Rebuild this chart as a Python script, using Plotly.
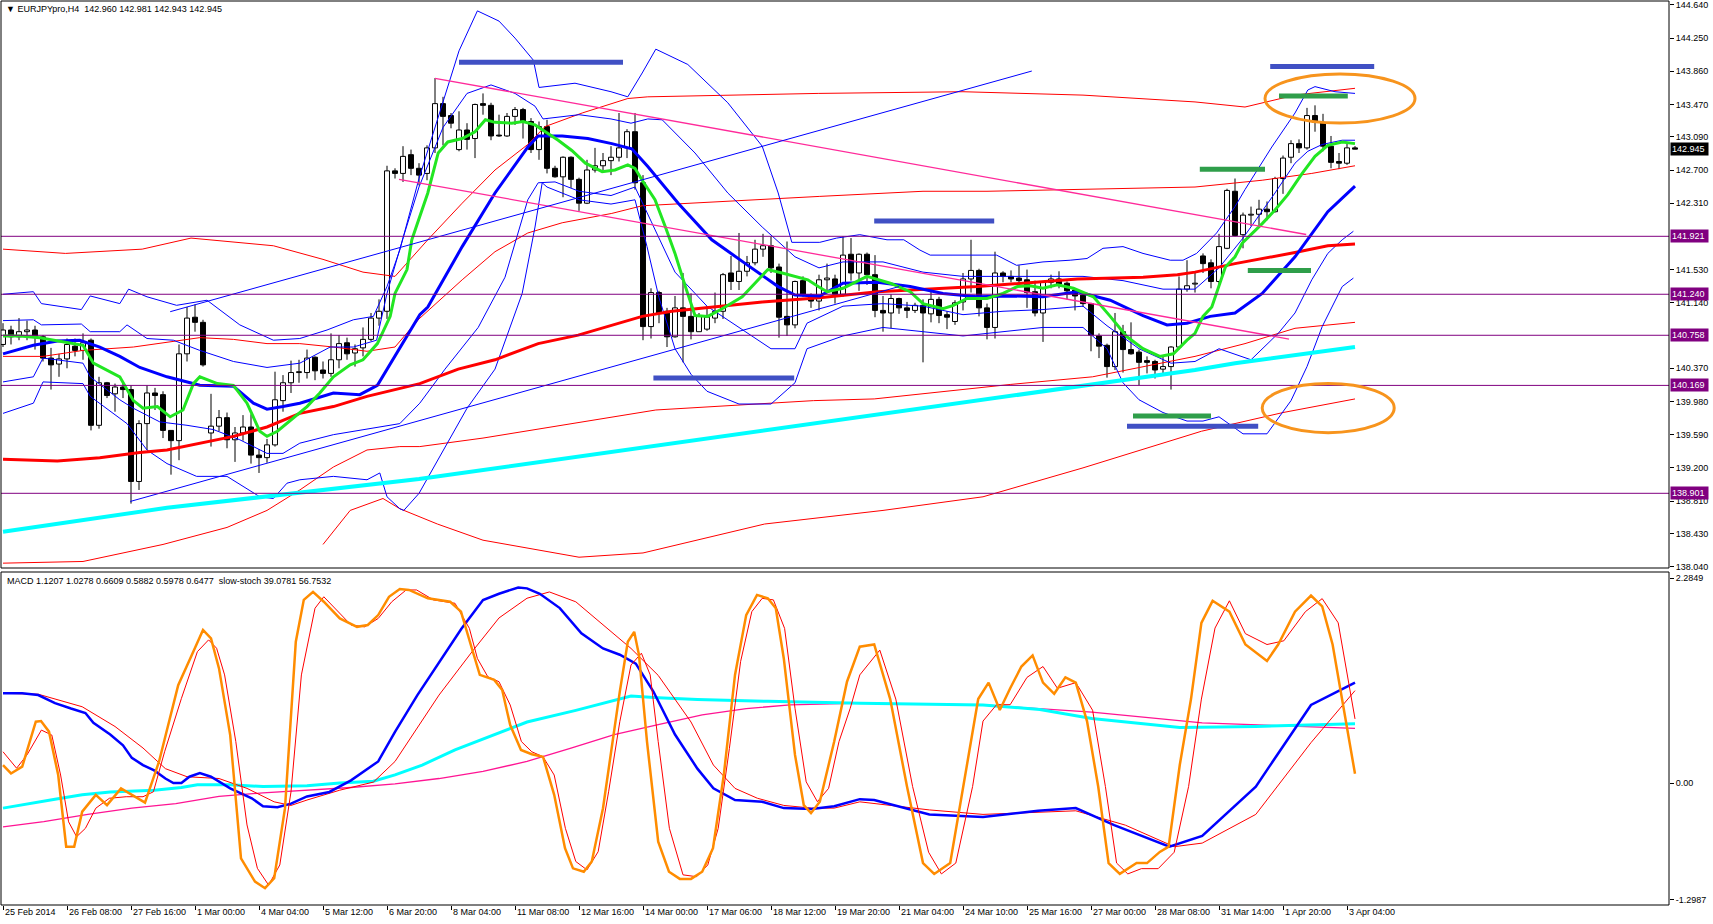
import plotly.graph_objects as go

# ---------------- data ----------------
opens = [140.65,140.82,140.74,140.80,140.82,140.74,140.49,140.42,140.48,140.63,
         140.58,140.70,139.70,140.20,140.07,140.15,140.12,139.04,139.72,140.08,
         140.06,139.64,139.52,140.54,140.97,140.91,139.61,139.69,139.79,139.53,
         139.61,139.68,139.35,139.32,139.47,139.99,140.20,140.32,140.32,140.50,
         140.35,140.31,140.47,140.67,140.55,140.61,140.71,140.96,141.04,142.69,
         142.66,142.88,142.72,142.66,142.96,143.48,143.34,142.94,143.17,143.07,
         143.48,143.46,143.11,143.10,143.33,143.41,143.27,142.94,143.21,142.72,
         142.62,142.85,142.59,142.31,142.70,142.75,142.81,142.85,142.96,143.15,
         142.55,140.86,141.26,141.04,140.74,141.08,140.98,140.80,140.83,140.96,
         141.04,141.49,141.39,141.51,141.61,141.77,141.81,141.56,140.98,140.88,
         141.40,141.23,141.16,141.41,141.42,141.24,141.71,141.49,141.71,141.47,
         141.05,141.02,141.19,141.08,141.05,141.11,141.01,141.18,141.00,140.92,
         141.15,141.42,141.52,141.08,140.85,141.49,141.45,141.43,141.41,141.27,
         141.02,141.38,141.42,141.37,141.29,141.23,141.13,140.75,140.64,140.39,
         140.80,140.59,140.56,140.46,140.45,140.36,140.39,140.62,141.30,141.36,
         141.69,141.61,141.39,141.78,142.45,141.94,142.17,142.18,142.24,142.21,
         142.60,142.85,143.01,142.96,143.34,143.26,142.98,142.80,142.78,142.960]
highs = [140.90,140.87,140.96,140.93,140.87,140.76,140.61,140.54,140.72,140.72,
         140.78,140.72,140.27,140.21,140.19,140.21,140.17,139.76,140.17,140.14,
         140.10,139.64,140.65,141.09,141.12,140.94,140.07,139.88,139.85,139.68,
         139.82,139.83,139.42,139.54,140.33,140.29,140.46,140.47,140.59,140.51,
         140.45,140.78,140.76,140.73,140.65,140.85,141.02,141.18,142.75,142.72,
         142.98,142.94,142.78,142.99,143.78,143.56,143.37,143.39,143.25,143.48,
         143.60,143.49,143.35,143.37,143.44,143.43,143.31,143.27,143.29,142.75,
         142.86,142.86,142.61,142.82,142.96,142.90,142.98,143.37,143.18,143.37,
         142.64,141.31,141.28,141.08,141.22,141.49,141.25,141.02,141.10,141.26,
         141.49,141.69,141.96,141.69,141.88,141.95,141.92,141.60,141.86,141.40,
         141.45,141.25,141.47,141.60,141.47,141.92,141.90,141.72,141.73,141.70,
         141.22,141.24,141.20,141.15,141.14,141.18,141.29,141.21,141.04,141.17,
         141.49,141.88,141.54,141.13,141.74,141.51,141.52,141.58,141.53,141.40,
         141.39,141.47,141.51,141.39,141.31,141.25,141.14,140.78,140.66,141.02,
         140.88,140.91,140.59,140.51,140.47,140.51,140.63,141.45,141.64,141.49,
         141.72,141.65,141.95,142.48,142.60,142.20,142.27,142.35,142.33,142.62,
         142.87,143.05,143.06,143.43,143.46,143.36,143.10,142.90,143.03,142.981]
lows = [140.62,140.65,140.70,140.70,140.59,140.45,140.12,140.27,140.37,140.51,
        140.47,139.64,139.66,140.02,139.86,140.02,138.78,138.94,139.41,139.88,
        139.55,139.12,139.29,140.45,140.80,140.39,139.45,139.63,139.43,139.27,
        139.52,139.25,139.14,139.26,139.45,139.86,140.08,140.20,140.25,140.23,
        140.25,140.27,140.37,140.47,140.39,140.51,140.69,140.87,140.95,142.60,
        142.56,142.64,142.52,142.58,142.90,142.99,143.19,142.92,142.94,142.84,
        143.35,143.05,143.09,143.09,143.23,143.07,142.90,142.82,142.66,142.61,
        142.38,142.49,142.22,142.30,142.67,142.70,142.64,142.80,142.84,142.47,
        140.70,140.72,140.90,140.62,140.73,140.44,140.71,140.80,140.81,140.90,
        140.95,141.29,141.29,141.45,141.58,141.68,141.49,140.73,140.75,140.84,
        141.21,141.08,141.05,141.29,141.13,141.21,141.40,141.28,141.35,140.97,
        140.80,140.84,141.01,140.96,141.02,140.44,140.91,140.90,140.83,140.88,
        141.05,141.26,140.98,140.71,140.72,141.38,141.38,141.33,141.08,140.98,
        140.68,141.31,141.31,141.18,141.05,141.09,140.57,140.49,140.26,140.35,
        140.32,140.53,140.17,140.31,140.25,140.31,140.12,140.59,141.27,141.26,
        141.49,141.31,141.35,141.77,141.92,141.78,142.04,142.02,142.11,142.20,
        142.42,142.78,142.90,142.94,143.15,142.92,142.72,142.71,142.76,142.943]
closes = [140.82,140.74,140.80,140.82,140.75,140.49,140.41,140.48,140.65,140.58,
          140.67,139.70,140.20,140.05,140.15,140.12,139.04,139.72,140.08,140.05,
          139.64,139.52,140.54,140.96,140.91,140.41,139.69,139.79,139.53,139.61,
          139.68,139.35,139.32,139.47,140.00,140.20,140.32,140.33,140.49,140.34,
          140.31,140.47,140.66,140.54,140.60,140.71,140.96,141.04,142.69,142.66,
          142.86,142.72,142.64,142.96,143.48,143.33,143.25,143.17,143.06,143.47,
          143.46,143.10,143.10,143.33,143.41,143.26,142.94,143.21,142.72,142.62,
          142.85,142.59,142.31,142.70,142.75,142.81,142.85,142.96,143.15,142.55,
          140.86,141.26,141.02,140.74,141.08,140.98,140.80,140.98,140.97,141.04,
          141.47,141.39,141.51,141.61,141.77,141.81,141.55,140.97,140.88,141.39,
          141.23,141.16,141.41,141.43,141.24,141.70,141.49,141.71,141.47,141.05,
          141.02,141.19,141.08,141.05,141.11,141.02,141.18,140.99,140.97,141.14,
          141.42,141.52,141.08,140.85,141.49,141.45,141.42,141.40,141.26,141.02,
          141.38,141.42,141.36,141.28,141.22,141.13,140.76,140.63,140.39,140.80,
          140.59,140.54,140.44,140.44,140.35,140.39,140.62,141.30,141.34,141.37,
          141.60,141.39,141.80,142.46,141.93,142.17,142.18,142.24,142.21,142.60,
          142.84,143.01,142.96,143.34,143.26,142.98,142.79,142.78,142.96,142.945]

date_labels = ["25 Feb 2014", "26 Feb 08:00", "27 Feb 16:00", "1 Mar 00:00", "4 Mar 04:00",
               "5 Mar 12:00", "6 Mar 20:00", "8 Mar 04:00", "11 Mar 08:00", "12 Mar 16:00",
               "14 Mar 00:00", "17 Mar 06:00", "18 Mar 12:00", "19 Mar 20:00", "21 Mar 04:00",
               "24 Mar 10:00", "25 Mar 16:00", "27 Mar 00:00", "28 Mar 08:00", "31 Mar 14:00",
               "1 Apr 20:00", "3 Apr 04:00"]
date_label_bars = [0, 8, 16, 24, 32, 40, 48, 56, 64, 72, 80, 88, 96, 104, 112, 120, 128, 136, 144, 152, 160, 168]

price_ticks = [144.640, 144.250, 143.860, 143.470, 143.090, 142.700, 142.310, 141.530, 141.140,
               140.370, 139.980, 139.590, 139.200, 138.810, 138.430, 138.040]
levels = [141.921, 141.240, 140.758, 140.169, 138.901]
last_price = 142.945

# fast MA (green)
green_x = [0, 2.1, 4.6, 10, 11.3, 14.6, 16.3, 17.5, 19.3, 20.9, 22.5, 23.8, 24.6, 26.8, 28.8, 30.5, 32.1, 33, 34.3, 35.9,
           38, 39.6, 41.3, 43.4, 45, 46.8, 48.4, 49, 50.5, 51.1, 53.1, 54.4, 55.6, 57.4, 59, 60.3, 61.5, 63.6, 65, 66.5,
           67.8, 69.4, 71.1, 72.8, 74.9, 76.5, 78.1, 79, 79.9, 81.5, 82.8, 84, 85.3, 86.5, 88.1, 89.9, 92.4, 94, 95.6, 97.4,
           99, 100.6, 101.9, 103, 105, 108, 110.9, 113.4, 115, 117.5, 118.8, 120.5, 123, 125, 126.8, 128.4, 130, 131.8, 133.8, 136.3,
           138.4, 140.5, 142.5, 144.6, 146.3, 148, 149, 150, 151.1, 152.1, 152.8, 154, 154.9, 157.4, 159, 160.6, 162.4, 164, 165.6, 167.4, 169]
green_y = [140.75, 140.75, 140.73, 140.64, 140.43, 140.27, 139.99, 139.90, 139.92, 139.80, 139.88, 140.19, 140.27, 140.19, 140.17, 139.96, 139.63, 139.57, 139.63, 139.76,
           139.92, 140.08, 140.27, 140.41, 140.47, 140.66, 140.98, 141.25, 141.53, 141.88, 142.43, 142.90, 143.03, 143.07, 143.15, 143.29, 143.26, 143.25, 143.27, 143.23,
           143.15, 143.05, 142.93, 142.78, 142.68, 142.70, 142.76, 142.72, 142.58, 142.35, 142.03, 141.72, 141.33, 140.99, 140.98, 141.07, 141.21, 141.37, 141.53, 141.49,
           141.45, 141.41, 141.33, 141.27, 141.31, 141.45, 141.37, 141.27, 141.13, 141.07, 141.11, 141.19, 141.19, 141.25, 141.33, 141.34, 141.31, 141.35, 141.31, 141.21,
           140.98, 140.74, 140.60, 140.51, 140.54, 140.70, 140.78, 140.98, 141.09, 141.37, 141.56, 141.68, 141.84, 142.07, 142.23, 142.41, 142.66, 142.86, 142.99, 143.03, 143.01]

# medium MA (thick blue)
blue_x = [0, 3.8, 6.8, 9.6, 12.1, 14.6, 17.1, 20.5, 24.6, 28.8, 31.3, 33, 35, 37.1, 41.3, 44.6, 46.8, 49, 52.1, 53.1,
          57.4, 61.5, 65.6, 66.9, 69.9, 73.1, 76.1, 78.6, 80.6, 84.4, 88.6, 92.8, 96.9, 99, 102.1, 105, 109.3, 113.4, 117.5, 121.8,
          125.9, 130, 134.3, 138.4, 142.5, 145.5, 148, 150.9, 154, 157.4, 161.5, 165.6, 169]
blue_y = [140.54, 140.64, 140.69, 140.70, 140.62, 140.51, 140.38, 140.27, 140.17, 140.16, 139.96, 139.89, 139.92, 139.96, 140.08, 140.06, 140.17, 140.51, 141.0, 141.09,
          141.80, 142.43, 142.97, 143.10, 143.10, 143.07, 143.01, 142.95, 142.74, 142.31, 141.88, 141.60, 141.33, 141.23, 141.22, 141.37, 141.38, 141.33, 141.25, 141.21,
          141.22, 141.21, 141.27, 141.17, 140.99, 140.88, 140.90, 140.98, 141.02, 141.25, 141.68, 142.21, 142.51]

# slow MA (thick red)
red_x = [0, 6.8, 12.1, 17.1, 20.5, 24.6, 28.8, 33, 37.1, 41.3, 45.5, 52.1, 56.9, 61.5, 66.9, 71.9,
         76.1, 79.9, 83.6, 88.6, 94.9, 102.1, 109.3, 121.8, 134.3, 142.5, 146.8, 149, 154, 161.5, 165.6, 169]
red_y = [139.30, 139.28, 139.32, 139.38, 139.41, 139.49, 139.57, 139.68, 139.84, 139.92, 140.04, 140.19, 140.36, 140.47, 140.66, 140.76,
         140.88, 140.98, 141.04, 141.09, 141.15, 141.20, 141.27, 141.33, 141.42, 141.44, 141.47, 141.50, 141.60, 141.73, 141.81, 141.83]

# very slow MA (thick aqua)
aqua_x = [0, 20.5, 52, 87, 122, 149, 154, 169]
aqua_y = [138.45, 138.73, 139.07, 139.53, 140.00, 140.35, 140.43, 140.62]

# Bollinger bands around the blue MA (thin blue)
bbu2_x = [0, 3.8, 4.8, 9.8, 10.9, 14.6, 15.7, 18, 21.7, 25.5, 29.6, 33.8, 37.1, 40.5, 43.8, 46.3, 48, 49.6, 52, 55,
          57, 59.3, 62, 64, 66.3, 67, 71.5, 76, 78.1, 79.9, 81.6, 85.6, 90.6, 94.9, 96.9, 98.6, 102.1, 104.2, 107.1, 110.5,
          112.6, 114.6, 115.9, 120, 124.2, 126.7, 130, 133.4, 135.5, 137.5, 140, 142.5, 145.9, 147.5, 149.2, 151.7, 154, 155.25, 158.6, 161.5,
          163.1, 164, 166.5, 169]
bbu2_y = [141.24, 141.27, 141.13, 141.06, 141.22, 141.13, 141.30, 141.21, 141.11, 141.17, 140.88, 140.70, 140.72, 140.82, 140.94, 140.98, 141.33, 141.76, 142.6, 143.5,
          144.1, 144.57, 144.45, 144.25, 143.99, 143.67, 143.72, 143.62, 143.56, 143.84, 144.12, 143.94, 143.49, 142.98, 142.43, 141.85, 141.85, 141.90, 141.94, 141.88,
          141.88, 141.76, 141.70, 141.70, 141.70, 141.58, 141.62, 141.64, 141.66, 141.78, 141.80, 141.72, 141.64, 141.64, 141.72, 141.96, 142.27, 142.47, 142.97, 143.37,
          143.64, 143.68, 143.62, 143.60]
bbu1_x = [0, 3.8, 4.8, 9.8, 10.9, 14.6, 15.5, 18, 21.3, 24.6, 28.8, 33, 37.1, 40.9, 43.8, 46.7, 48, 50, 52, 55,
          58, 61, 64, 66.5, 67.5, 72, 76, 78.5, 80.6, 82.4, 86.5, 90.6, 94.9, 99, 102, 105, 110, 115, 120, 125,
          130, 135, 140, 145, 149, 152, 155, 159, 161.5, 163.1, 164.9, 167.4, 169]
bbu1_y = [140.93, 140.94, 140.88, 140.89, 140.80, 140.80, 140.88, 140.72, 140.70, 140.58, 140.45, 140.38, 140.43, 140.62, 140.62, 140.70, 141.25, 141.9, 142.5, 143.2,
          143.6, 143.7, 143.6, 143.45, 143.3, 143.35, 143.3, 143.25, 143.3, 143.29, 142.90, 142.43, 142.03, 141.68, 141.55, 141.62, 141.62, 141.50, 141.45, 141.45,
          141.45, 141.45, 141.40, 141.30, 141.30, 141.55, 141.9, 142.43, 142.78, 142.92, 143.0, 143.05, 143.05]
bbl1_x = [0, 3.8, 5, 10, 10.9, 14.6, 16.3, 19.6, 23, 26.3, 29.6, 33, 35, 37.1, 41.3, 45.5, 49.6, 52.1, 55.25, 59.4,
          62.75, 65.6, 66.9, 69, 72, 76, 79, 81, 84, 88, 92, 96, 99, 100.5, 105, 110, 115, 120, 125, 130,
          135, 138, 142, 146, 149, 152, 156, 159.4, 161.5, 163.6, 165.6, 167.4, 168.8]
bbl1_y = [140.21, 140.27, 140.49, 140.43, 140.27, 140.00, 139.90, 139.74, 139.70, 139.65, 139.53, 139.37, 139.37, 139.49, 139.59, 139.66, 139.72, 139.96, 140.36, 140.85,
          141.44, 142.35, 142.55, 142.56, 142.45, 142.4, 142.5, 142.1, 141.5, 141.1, 140.85, 140.6, 140.6, 140.9, 141.1, 141.13, 141.1, 141.0, 141.04, 141.06,
          141.1, 140.87, 140.6, 140.43, 140.45, 140.6, 140.47, 140.78, 141.02, 141.41, 141.72, 141.88, 141.98]
bbl2_x = [0, 3.8, 5, 10, 10.9, 15.5, 18, 20.5, 24.2, 28, 32.1, 33.8, 35.5, 37.1, 41.3, 45.5, 47.1, 48, 49.6, 50.1,
          52, 55, 58, 61.5, 64.9, 66.5, 67.4, 68, 72, 76, 79, 80.5, 82, 84, 86, 88, 92, 96, 99, 100.5,
          105, 110, 115, 120, 125, 130, 135, 138, 140, 142, 145, 148, 150, 152, 155, 158, 161, 163, 164.9, 167.4, 168.8]
bbl2_y = [139.84, 139.96, 140.21, 140.19, 140.04, 139.72, 139.41, 139.25, 139.10, 139.10, 138.86, 138.84, 139.02, 139.06, 139.10, 139.06, 139.14, 138.86, 138.72, 138.70,
          138.9, 139.4, 139.9, 140.36, 141.25, 142.03, 142.55, 142.5, 142.35, 142.3, 142.35, 141.8, 141.2, 140.6, 140.3, 140.1, 139.95, 139.95, 140.2, 140.6,
          140.75, 140.85, 140.8, 140.75, 140.8, 140.85, 140.85, 140.6, 140.2, 140.0, 139.85, 139.75, 139.75, 139.8, 139.6, 139.6, 139.99, 140.39, 140.86, 141.33, 141.43]

# Bollinger bands around the red MA (thin red)
rbu2_x = [0, 7.8, 17.4, 23.5, 33.8, 40, 45, 49, 53.1, 57.4, 61.5, 65.6, 67.75, 72.4, 78.1, 80.6, 101.9, 120, 135, 149, 155.25, 161.5, 169]
rbu2_y = [141.77, 141.72, 141.77, 141.90, 141.81, 141.65, 141.5, 141.45, 141.88, 142.31, 142.70, 143.00, 143.21, 143.37, 143.54, 143.56, 143.60, 143.62, 143.58, 143.50, 143.44, 143.58, 143.66]
rbu1_x = [0, 5, 10, 16.3, 24.6, 28.8, 33, 37.1, 41.3, 45.5, 49, 52, 57.4, 61.5, 65.6, 69.9, 76.1, 79.9, 102.1, 115, 123, 135, 149, 157.4, 163.6, 169]
rbu1_y = [140.51, 140.51, 140.58, 140.62, 140.73, 140.71, 140.66, 140.66, 140.62, 140.57, 140.62, 140.95, 141.41, 141.74, 141.96, 142.08, 142.19, 142.28, 142.39, 142.45, 142.45, 142.47, 142.50, 142.58, 142.66, 142.75]
rbl1_x = [0, 10, 20, 28, 33, 37.1, 41.3, 45.5, 49.6, 52.1, 60, 81.6, 101.3, 108.9, 125.9, 136.2, 149, 155.25, 161.5, 169]
rbl1_y = [138.08, 138.1, 138.3, 138.5, 138.70, 138.94, 139.21, 139.41, 139.45, 139.45, 139.55, 139.88, 139.99, 140.01, 140.18, 140.27, 140.51, 140.66, 140.84, 140.91]
rbl2_x = [40, 43.4, 47.5, 49.6, 54.3, 60, 72, 80, 95.2, 110, 122.5, 135, 149.8, 160, 169]
rbl2_y = [138.3, 138.70, 138.84, 138.72, 138.54, 138.35, 138.15, 138.2, 138.54, 138.7, 138.86, 139.2, 139.63, 139.85, 140.01]

# drawn objects
pink_lines = [((54, 143.778), (162.9, 141.942)), ((49.5, 142.591), (160.75, 140.714))]
channel_lines = [((20.9, 141.035), (128.6, 143.863)), ((15.9, 138.805), (112, 141.33))]
blue_marks = [(57, 77.5, 143.966), (108.9, 123.9, 142.10), (81.3, 98.9, 140.256), (140.5, 156.9, 139.69), (158.4, 171.4, 143.915)]
green_marks = [(149.6, 157.75, 142.708), (159.5, 168.1, 143.57), (155.6, 163.5, 141.52), (141.25, 151, 139.81)]
ellipses = [(157.75, 176.5, 143.252, 143.828), (157.4, 173.9, 139.614, 140.191)]

# MACD panel
macd_x = [0, 2.4, 4.4, 6.5, 8.5, 10.3, 11.3, 13.4, 15, 16.1, 17.5, 18.9, 20.3, 21.3, 22.3, 23.3, 24.6, 26, 28.4, 31.1,
          32.5, 34.3, 36, 38, 40.8, 43.5, 46.9, 49, 51.8, 54.5, 57.3, 60, 62, 64.4, 65.5, 67.1, 69.6, 72.3, 75, 77.1,
          79.1, 81.3, 84, 86.8, 88.8, 91.5, 94.9, 97.6, 101.1, 103.9, 107.1, 108.9, 115.8, 122.5, 129.4, 134.1, 138.9, 145.8, 149.9, 156.6,
          163.5, 169]
macd_y = [1.00, 1.00, 0.98, 0.89, 0.83, 0.78, 0.67, 0.54, 0.42, 0.28, 0.20, 0.14, 0.05, 0.00, 0.00, 0.07, 0.11, 0.07, -0.06, -0.17,
          -0.26, -0.27, -0.23, -0.15, -0.10, 0.03, 0.24, 0.57, 0.98, 1.35, 1.72, 2.04, 2.11, 2.18, 2.17, 2.11, 1.95, 1.67, 1.50, 1.43,
          1.33, 1.02, 0.54, 0.16, -0.06, -0.19, -0.21, -0.28, -0.29, -0.26, -0.18, -0.19, -0.35, -0.38, -0.31, -0.28, -0.47, -0.71, -0.59, -0.04,
          0.87, 1.12]
sig_x = [0, 4.4, 9.9, 14, 17.5, 20.3, 23, 27, 30.5, 33.9, 36, 38, 42.1, 46.3, 49, 51.8, 54.5, 58.6, 62, 65.5,
         68.3, 71.6, 75, 78.5, 81.9, 86, 88.8, 91.5, 94.3, 97.6, 101.1, 103.9, 107.1, 115.8, 122.5, 134.1, 140.3, 146.4, 149.9, 156.6,
         163.5, 169]
sig_y = [1.00, 0.99, 0.85, 0.63, 0.39, 0.16, 0.07, 0.05, -0.06, -0.21, -0.25, -0.19, -0.08, 0.01, 0.24, 0.61, 0.98, 1.46, 1.84, 2.06,
         2.13, 2.02, 1.76, 1.50, 1.20, 0.68, 0.20, -0.06, -0.17, -0.25, -0.28, -0.28, -0.21, -0.30, -0.35, -0.31, -0.47, -0.71, -0.67, -0.35,
         0.45, 1.03]
mcyan_x = [0, 3, 6.5, 9.9, 13.4, 18.9, 22.3, 24.3, 28.4, 32.5, 38, 42.1, 46.3, 49, 52.4, 56.5, 61.4, 65.5, 71.6, 75,
           78.5, 81.9, 86.8, 95.6, 101.1, 107.1, 122.5, 129.6, 136.1, 147.1, 156.6, 163.5, 169]
mcyan_y = [-0.28, -0.23, -0.18, -0.13, -0.10, -0.08, -0.05, -0.02, -0.02, -0.04, -0.03, 0.00, 0.02, 0.09, 0.20, 0.37, 0.54, 0.68, 0.81, 0.89,
           0.97, 0.95, 0.93, 0.91, 0.90, 0.89, 0.87, 0.82, 0.72, 0.62, 0.63, 0.65, 0.66]
mpink_x = [0, 5.1, 10.6, 16.1, 21.6, 27, 32.5, 38, 43.5, 49, 54.5, 60, 65.5, 71, 76.4, 81.9, 87.4, 92.9, 98.4, 107.1,
           122.5, 136.1, 149.9, 169]
mpink_y = [-0.49, -0.43, -0.35, -0.28, -0.23, -0.15, -0.11, -0.08, -0.05, -0.01, 0.05, 0.13, 0.24, 0.39, 0.54, 0.65, 0.76, 0.83, 0.87, 0.89,
           0.87, 0.79, 0.67, 0.61]

stoch_x = [0, 1, 2.4, 4.1, 4.75, 5.75, 6.9, 7.9, 8.9, 9.9, 11.6, 13, 14.75, 16.1, 17.75, 19.5, 21.9, 23.6, 25, 26,
           27, 28.4, 29.75, 31.5, 32.75, 33.9, 35.25, 36.6, 37.6, 38.75, 40.1, 42.1, 44.25, 45.6, 46.9, 48.25, 49.6, 50.75, 53.1, 55.9,
           57.25, 58.6, 59.6, 61.4, 62.4, 63.4, 64.75, 66.1, 67.5, 68.9, 70.25, 71.25, 72.6, 73.6, 75, 77.1, 78.1, 78.9, 79.5, 80.5,
           81.9, 83.25, 84.6, 86, 87.4, 88.75, 90.1, 91.5, 92.9, 94.25, 95.6, 96.6, 97.6, 99, 100.1, 101, 102.1, 103.9, 105.5, 107.1,
           108.9, 110.9, 113, 115, 116.4, 118.4, 120.5, 121.9, 123.2, 124.6, 125.9, 127.3, 128.7, 130, 131.4, 132.8, 134.1, 135.5, 136.9, 138.2,
           139.6, 141.7, 143, 144.6, 145.7, 147.1, 148.5, 149.8, 151.2, 153.3, 155.3, 158, 159.4, 161.5, 163.5, 164.9, 166.2, 167.6, 169]
stoch_y = [41.9, 39.2, 41.4, 55.9, 56.1, 52.7, 38.7, 15.6, 15.6, 26.9, 32.3, 29.0, 34.4, 32.3, 29.8, 43.0, 67.7, 77.4, 85.5, 82.8,
           73.1, 51.6, 11.8, 4.3, 2.2, 5.4, 28.0, 81.7, 95.2, 97.8, 94.6, 89.2, 86.5, 87.1, 90.3, 96.2, 98.7, 98.4, 95.7, 94.6,
           91.4, 79.6, 71.0, 69.4, 66.1, 54.8, 46.8, 45.4, 44.6, 32.3, 15.1, 8.6, 7.5, 10.8, 28.0, 65.6, 81.7, 84.9, 77.4, 49.5,
           17.2, 7.5, 5.2, 5.2, 7.5, 15.1, 38.7, 71.0, 90.3, 96.8, 95.7, 92.5, 76.3, 45.2, 29.0, 26.4, 30.1, 49.5, 68.8, 80.1,
           80.8, 63.2, 35.0, 10.3, 6.8, 10.3, 42.0, 63.2, 68.5, 59.7, 66.7, 73.7, 77.3, 68.5, 64.9, 70.2, 68.5, 56.1, 35.0, 10.3,
           6.8, 10.3, 10.3, 13.9, 15.6, 42.0, 63.2, 87.8, 94.9, 91.4, 80.8, 75.5, 80.8, 91.4, 96.6, 93.1, 80.8, 59.6, 39.1]
ssig_x = [0, 1.7, 3, 4.8, 6.1, 7.2, 8.2, 9.2, 10.3, 11.6, 13.3, 15.4, 17.5, 18.8, 20.2, 22.3, 24.3, 25.7, 26.7, 27.7,
          29.1, 30.5, 31.8, 33.2, 34.6, 36, 37.3, 39, 40.1, 41.5, 43.5, 45.2, 46.9, 48.6, 50.4, 51.7, 53.8, 56.5, 58.3, 59.3,
          60.6, 62, 63.4, 64.8, 66.1, 67.5, 68.9, 70.3, 71.6, 73, 74.4, 75.7, 77.1, 78.5, 79.8, 80.9, 81.9, 83.3, 85, 86.7,
          88.1, 89.4, 90.8, 92.2, 93.6, 94.9, 96.3, 97.7, 99, 100.4, 101.8, 103.2, 104.5, 105.9, 107.1,
          109.6, 111.6, 113.7, 115.7, 117.3, 119.1, 121.2, 122.5, 124.2, 125.9, 128, 130, 131.8, 134.1, 136.2, 137.8, 139.2, 140.6, 142.3, 144.4,
          146.4, 148.2, 149.8, 151.5, 153.3, 155.3, 158, 160.1, 162.8, 164.9, 166.9, 169]
ssig_y = [46.2, 40.9, 45.2, 53.2, 51.6, 38.7, 23.6, 18.8, 21.5, 28.0, 31.2, 31.7, 31.7, 33.3, 46.2, 63.4, 78.5, 82.3, 79.6, 71.0,
          49.5, 22.6, 8.6, 3.2, 9.7, 33.3, 71.0, 92.5, 96.2, 92.5, 87.1, 86.5, 89.2, 94.6, 98.4, 98.4, 95.2, 94.1, 86.0, 76.3,
          70.4, 68.8, 61.3, 49.5, 46.2, 44.6, 38.7, 21.5, 10.8, 8.1, 14.0, 33.3, 55.9, 74.2, 78.0, 71.0, 49.5, 21.5, 6.5, 5.9,
          9.7, 21.5, 47.3, 75.3, 91.4, 95.7, 95.2, 86.0, 60.2, 36.5, 30.1, 34.4, 49.5, 60.2, 71.0,
          79.0, 63.2, 35.0, 13.8, 6.8, 10.3, 35.0, 56.1, 61.4, 61.4, 70.2, 73.7, 66.7, 68.5, 59.6, 35.0, 10.3, 6.8, 8.5, 8.5,
          13.8, 35.0, 63.2, 86.1, 94.9, 84.3, 80.8, 82.0, 91.4, 95.6, 87.8, 56.8]

macd_ticks = [2.2849, 0.0, -1.2987]
macd_ticktext = ["2.2849", "0.00", "-1.2987"]

# ---------------- figure ----------------
W, H = 1713, 924
ML, MR, MT, MB = 1, 44, 1, 19
PH = H - MT - MB
MAIN_TOP, MAIN_BOT = 1, 568
SUB_TOP, SUB_BOT = 572, 905
main_dom = [(H - MB - MAIN_BOT) / PH, 1.0]
sub_dom = [0.0, (H - MB - SUB_TOP) / PH]
PX_PER_PRICE = 85.1
REF_PRICE, REF_Y = 141.921, 236.3
main_range = [REF_PRICE - (MAIN_BOT - REF_Y) / PX_PER_PRICE, REF_PRICE + (REF_Y - MAIN_TOP) / PX_PER_PRICE]
PX_PER_MACD = 89.7
ZERO_Y = 783
sub_range = [-(SUB_BOT - ZERO_Y) / PX_PER_MACD, (ZERO_Y - SUB_TOP) / PX_PER_MACD]
stoch_range = [(895 - SUB_BOT) / 3.1, (895 - SUB_TOP) / 3.1]
x_range = [-0.25, 208.25]

FONT = "Liberation Sans, Arial, sans-serif"
FS = 9
fig = go.Figure()


def line(x, y, color, width, xa="x", ya="y"):
    fig.add_trace(go.Scatter(x=x, y=y, mode="lines", line=dict(color=color, width=width),
                             xaxis=xa, yaxis=ya, hoverinfo="skip", showlegend=False))


# candles
idx = list(range(len(opens)))
base = [min(o, c) for o, c in zip(opens, closes)]
hgt = [max(abs(c - o), 0.004) for o, c in zip(opens, closes)]
cols = ["white" if c >= o else "black" for o, c in zip(opens, closes)]
fig.add_trace(go.Bar(x=idx, y=hgt, base=base, width=0.62,
                     marker=dict(color=cols, line=dict(color="black", width=1)),
                     xaxis="x", yaxis="y", hoverinfo="skip", showlegend=False))
wx, wy = [], []
for i, (o, h, l, c) in enumerate(zip(opens, highs, lows, closes)):
    wx += [i, i, None, i, i, None]
    wy += [h, max(o, c), None, min(o, c), l, None]
fig.add_trace(go.Scatter(x=wx, y=wy, mode="lines", line=dict(color="black", width=1),
                         xaxis="x", yaxis="y", hoverinfo="skip", showlegend=False))

# level lines
for lv in levels:
    fig.add_shape(type="line", xref="paper", yref="y", x0=0, x1=1, y0=lv, y1=lv,
                  line=dict(color="#800080", width=1))

# bands and averages
for bx, by in [(rbu2_x, rbu2_y), (rbu1_x, rbu1_y), (rbl1_x, rbl1_y), (rbl2_x, rbl2_y)]:
    line(bx, by, "#ff0000", 1)
for bx, by in [(bbu2_x, bbu2_y), (bbu1_x, bbu1_y), (bbl1_x, bbl1_y), (bbl2_x, bbl2_y)]:
    line(bx, by, "#0000ff", 1)
line(aqua_x, aqua_y, "#00ffff", 4)
line(red_x, red_y, "#ff0000", 3)
line(blue_x, blue_y, "#0000ff", 3)
line(green_x, green_y, "#22e622", 3)

for (a, b) in pink_lines:
    line([a[0], b[0]], [a[1], b[1]], "#ff2a9a", 1.3)
for (a, b) in channel_lines:
    line([a[0], b[0]], [a[1], b[1]], "#0000ff", 1)

for x0, x1, yv in blue_marks:
    line([x0, x1], [yv, yv], "#4050c4", 5)
for x0, x1, yv in green_marks:
    line([x0, x1], [yv, yv], "#2f9e4a", 5)
for x0, x1, y0, y1 in ellipses:
    fig.add_shape(type="circle", xref="x", yref="y", x0=x0, x1=x1, y0=y0, y1=y1,
                  line=dict(color="#f7941d", width=3))

# MACD panel
line(mpink_x, mpink_y, "#ff1493", 1.3, "x2", "y2")
line(mcyan_x, mcyan_y, "#00ffff", 3, "x2", "y2")
line(sig_x, sig_y, "#ff0000", 1, "x2", "y2")
line(macd_x, macd_y, "#0000ff", 2.5, "x2", "y2")
line(ssig_x, ssig_y, "#ff0000", 1, "x2", "y3")
line(stoch_x, stoch_y, "#ff8c00", 2.5, "x2", "y3")

# panel frames
fig.add_shape(type="rect", xref="paper", yref="paper", x0=0, x1=1, y0=main_dom[0], y1=main_dom[1],
              line=dict(color="black", width=1))
fig.add_shape(type="rect", xref="paper", yref="paper", x0=0, x1=1, y0=sub_dom[0], y1=sub_dom[1],
              line=dict(color="black", width=1))

ann = []
for lv in levels:
    ann.append(dict(x=1, xref="paper", y=lv, yref="y", xanchor="left", yanchor="middle", xshift=1,
                    text=f"{lv:.3f}\u00a0", showarrow=False, bgcolor="#800080", borderpad=1,
                    font=dict(family=FONT, size=FS, color="white")))
ann.append(dict(x=1, xref="paper", y=last_price, yref="y", xanchor="left", yanchor="middle", xshift=1,
                text=f"{last_price:.3f}\u00a0", showarrow=False, bgcolor="black", borderpad=1,
                font=dict(family=FONT, size=FS, color="white")))
for b, t in zip(date_label_bars, date_labels):
    ann.append(dict(x=b, xref="x2", y=-(912 - 905) / PH, yref="paper", xanchor="left", yanchor="middle",
                    xshift=0, text=t, showarrow=False, font=dict(family=FONT, size=FS, color="black")))
ann.append(dict(x=0, xref="paper", y=1, yref="paper", xanchor="left", yanchor="top", xshift=3, yshift=-1,
                text="\u25bc EURJPYpro,H4\u00a0\u00a0142.960 142.981 142.943 142.945", showarrow=False,
                font=dict(family=FONT, size=FS, color="black")))
ann.append(dict(x=0, xref="paper", y=sub_dom[1], yref="paper", xanchor="left", yanchor="top", xshift=4, yshift=-2,
                text="MACD 1.1207 1.0278 0.6609 0.5882 0.5978 0.6477\u00a0\u00a0slow-stoch 39.0781 56.7532",
                showarrow=False, font=dict(family=FONT, size=FS, color="black")))

fig.update_layout(
    width=W, height=H, margin=dict(l=ML, r=MR, t=MT, b=MB),
    paper_bgcolor="white", plot_bgcolor="white", showlegend=False, hovermode=False,
    barmode="overlay",
    annotations=ann,
    xaxis=dict(domain=[0, 1], range=x_range, anchor="y", showticklabels=False, showgrid=False,
               zeroline=False, ticks=""),
    yaxis=dict(domain=main_dom, range=main_range, anchor="x", side="right", tickvals=price_ticks,
               ticktext=[f"{v:.3f}" for v in price_ticks], ticks="outside", ticklen=4, tickcolor="black",
               showgrid=False, zeroline=False, showline=False,
               tickfont=dict(family=FONT, size=FS, color="black")),
    xaxis2=dict(domain=[0, 1], range=x_range, anchor="y2", matches="x", showticklabels=False,
                showgrid=False, zeroline=False, tickvals=date_label_bars, ticks="outside", ticklen=4,
                tickcolor="black"),
    yaxis2=dict(domain=sub_dom, range=sub_range, anchor="x2", side="right", tickvals=macd_ticks,
                ticktext=macd_ticktext, ticks="outside", ticklen=4, tickcolor="black",
                showgrid=False, zeroline=False, tickfont=dict(family=FONT, size=FS, color="black")),
    yaxis3=dict(range=stoch_range, overlaying="y2", anchor="x2", visible=False),
)

fig.write_html("out.html", config={"displayModeBar": False},
               post_script="document.body.style.margin='0px';")
